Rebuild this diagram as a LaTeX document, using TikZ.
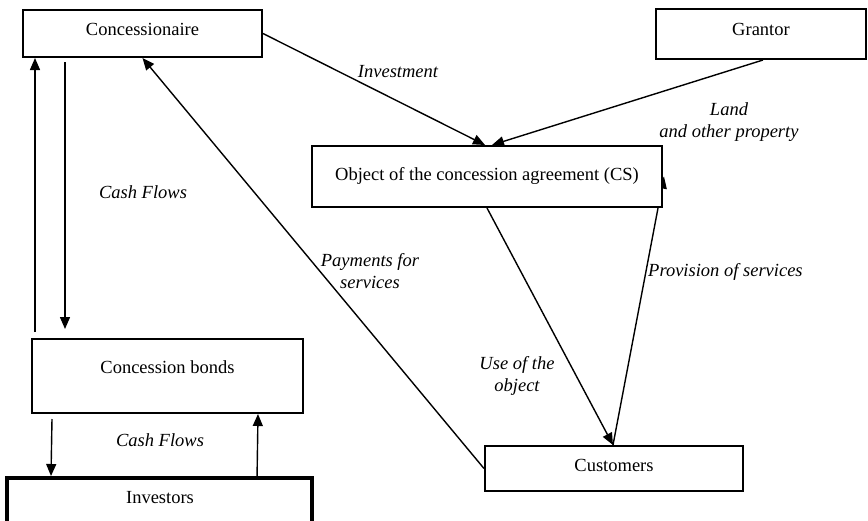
\documentclass[tikz,border=0pt]{standalone}
\usepackage{fontspec}
\setmainfont{Liberation Serif}
\usetikzlibrary{arrows.meta,calc,backgrounds}
\tikzset{
  box/.style={draw, fill=white, line width=2pt, rectangle, inner sep=0pt},
  thickbox/.style={draw, fill=white, line width=4pt, rectangle, inner sep=0pt},
  txt/.style={font=\fontsize{18.5}{22}\selectfont, inner sep=0pt},
  lbl/.style={font=\fontsize{18.5}{22}\selectfont\itshape, inner sep=0pt, align=center},
  flow/.style={line width=1.4pt, -{Triangle[length=12pt,width=10pt]}},
}
\begin{document}
\begin{tikzpicture}[x=1pt,y=-1pt]
\useasboundingbox (0,0) rectangle (868,520);
\clip (0,0) rectangle (868,520);

% boxes
\node[box, minimum width=239pt, minimum height=47pt] (conc) at (142.5,33.5) {};
\node[txt] (concT) at (142.5,29) {Concessionaire};
\node[box, minimum width=210pt, minimum height=50pt] (grant) at (761,34) {};
\node[txt] (grantT) at (761,29) {Grantor};
\node[box, minimum width=350pt, minimum height=61pt] (obj) at (487,176.5) {};
\node[txt] (objT) at (487,176) {Object of the concession agreement (CS)};
\node[box, minimum width=258pt, minimum height=45pt] (cust) at (614,468.5) {};
\node[txt] (custT) at (614,465) {Customers};
\node[box, minimum width=271pt, minimum height=74pt] (bonds) at (167.5,376) {};
\node[txt] (bondsT) at (167.5,367) {Concession bonds};
\node[thickbox, minimum width=305pt, minimum height=60pt] (inv) at (159.5,508) {};
\node[txt] (invT) at (160,498) {Investors};

% connectors, kept behind the boxes
\begin{scope}[on background layer]
\draw[flow] ($(bonds.north west)+(4,-6)$) -- ($(conc.south west)+(13,0)$);
\draw[flow, shorten <=4pt] ($(conc.south west)+(43,0)$) -- ($(bonds.north west)+(34,-9)$);
\draw[flow] ($(bonds.south west)+(21,5)$) -- ($(inv.north west)+(46,0)$);
\draw[flow] ($(inv.north west)+(252,4)$) -- ($(bonds.south west)+(227,0)$);
\draw[flow] (conc.east) -- ($(obj.north)+(-2,0)$);
\draw[flow] ($(grant.south)+(2,0)$) -- ($(obj.north)+(5,0)$);
\draw[flow] (obj.south) -- ($(cust.north)+(-1,0)$);
\draw[flow] ($(cust.north)+(-1,0)$) -- ($(obj.east)+(1,0)$);
\draw[flow] (cust.west) -- (conc.south);
\end{scope}

% flow labels
\node[lbl] (lInv) at (398,72) {Investment};
\node[lbl] (lLand) at (729,122.5) {Land\\and other property};
\node[lbl] (lCash1) at (143,192) {Cash Flows};
\node[lbl] (lCash2) at (160,440) {Cash Flows};
\node[lbl] (lPay) at (370,271) {Payments for\\services};
\node[lbl, anchor=west] (lProv) at (648,272) {Provision of services};
\node[lbl] (lUse) at (517,375.5) {Use of the\\object};
\end{tikzpicture}
\end{document}
